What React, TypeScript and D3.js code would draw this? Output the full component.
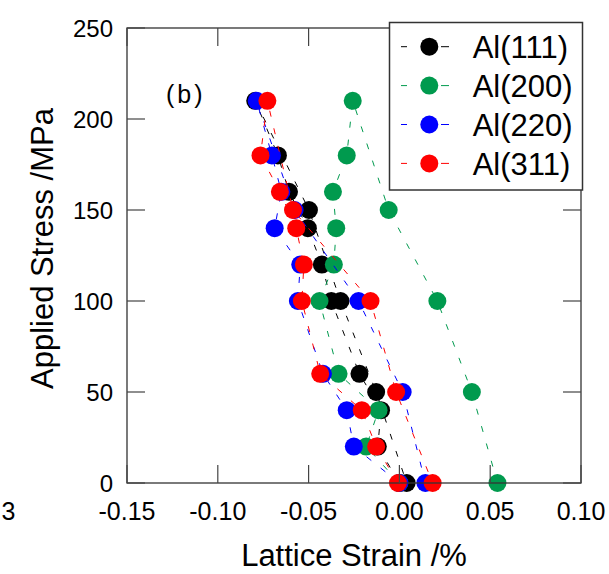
import React from "react";
import * as d3 from "d3";

// stress path: loading to 210 MPa then unloading
const loadStress = [0, 20, 40, 60, 100, 120, 140, 160, 180, 210];
const unloadStress = [150, 100, 50, 0];

const al111 = [0.0, -0.0119, -0.0101, -0.022, -0.0375, -0.0427, -0.0504, -0.0608, -0.0669, -0.0794, -0.0498, -0.0324, -0.0128, 0.004];
const al200 = [0.0, -0.0183, -0.0115, -0.0335, -0.044, -0.0361, -0.0348, -0.0366, -0.029, -0.0257, -0.0059, 0.0209, 0.0399, 0.054];
const al220 = [0.0, -0.0251, -0.029, -0.0421, -0.0559, -0.0546, -0.0687, -0.065, -0.0702, -0.0786, -0.0577, -0.0225, 0.0018, 0.0143];
const al311 = [-0.0008, -0.0128, -0.0207, -0.0436, -0.0537, -0.0526, -0.0568, -0.0658, -0.0765, -0.0727, -0.0586, -0.0159, -0.0018, 0.0183];

const seriesNames = ["Al(111)", "Al(200)", "Al(220)", "Al(311)"];
const seriesColors = ["#000000", "#009a4e", "#0000ff", "#ff0000"];

const xTicks = [-0.15, -0.1, -0.05, 0.0, 0.05, 0.1];
const yTicks = [0, 50, 100, 150, 200, 250];

const W = 609;
const H = 574;
const FONT = "'Liberation Sans', Arial, sans-serif";

export default function App() {
  const x = d3.scaleLinear().domain([-0.15, 0.1]).range([127, 581]);
  const y = d3.scaleLinear().domain([0, 250]).range([483, 28]);
  const stress = [...loadStress, ...unloadStress];
  const all = [al111, al200, al220, al311];

  const line = d3
    .line<[number, number]>()
    .x((d) => x(d[0]))
    .y((d) => y(d[1]));

  const fmt = (v: number) => d3.format(".2f")(v).replace("\u2212", "-");
  const [x0, x1] = x.range();
  const [yb, yt] = y.range();
  const tickLen = 18;

  // legend geometry
  const lg = { x: 389.5, y: 22.5, w: 193, h: 167.5 };
  const rowY = (i: number) => 46.7 + i * 38.9;

  return (
    <div style={{ position: "absolute", left: 0, top: 0 }}>
      <svg width={W} height={H} style={{ display: "block", fontFamily: FONT }}>
        <rect width={W} height={H} fill="#fff" />

        {/* series: dashed path + markers */}
        {all.map((vals, si) => {
          const pts = vals.map((v, i) => [v, stress[i]] as [number, number]);
          return (
            <g key={si}>
              <path
                d={line(pts) || ""}
                fill="none"
                stroke={seriesColors[si]}
                strokeWidth={1}
                strokeDasharray="6,12"
              />
              {pts.map((p, i) => (
                <circle key={i} cx={x(p[0])} cy={y(p[1])} r={9} fill={seriesColors[si]} />
              ))}
            </g>
          );
        })}

        {/* frame */}
        <rect x={x0} y={yt} width={x1 - x0} height={yb - yt} fill="none" stroke="#333" strokeWidth={1.3} />

        {/* x ticks (inward, top and bottom) */}
        {xTicks.map((t) => (
          <g key={"x" + t}>
            <line x1={x(t)} x2={x(t)} y1={yb} y2={yb - tickLen} stroke="#444" strokeWidth={1.2} />
            <line x1={x(t)} x2={x(t)} y1={yt} y2={yt + tickLen} stroke="#444" strokeWidth={1.2} />
            <text x={x(t)} y={520} textAnchor="middle" fontSize={25} fill="#000">
              {fmt(t)}
            </text>
          </g>
        ))}

        {/* y ticks (inward, left and right) */}
        {yTicks.map((t) => (
          <g key={"y" + t}>
            <line x1={x0} x2={x0 + tickLen} y1={y(t)} y2={y(t)} stroke="#444" strokeWidth={1.2} />
            <line x1={x1} x2={x1 - tickLen} y1={y(t)} y2={y(t)} stroke="#444" strokeWidth={1.2} />
            <text x={113} y={y(t)} dy="0.36em" textAnchor="end" fontSize={24} fill="#000">
              {t}
            </text>
          </g>
        ))}

        <text x={8.5} y={520} fontSize={25} textAnchor="middle" fill="#000">3</text>

        {/* axis titles */}
        <text x={(x0 + x1) / 2} y={566} textAnchor="middle" fontSize={31} fill="#000">
          Lattice Strain /%
        </text>
        <text
          transform={`translate(53,${(yb + yt) / 2 - 7}) rotate(-90)`}
          textAnchor="middle"
          fontSize={31}
          fill="#000"
        >
          Applied Stress /MPa
        </text>

        <text x={166} y={103} fontSize={25} letterSpacing={3} fill="#000">
          (b)
        </text>

        {/* legend */}
        <rect x={lg.x} y={lg.y} width={lg.w} height={lg.h} fill="#fff" stroke="#333" strokeWidth={1.5} />
        {seriesNames.map((name, i) => (
          <g key={name}>
            <line x1={401} x2={407} y1={rowY(i)} y2={rowY(i)} stroke={seriesColors[i]} strokeWidth={1} />
            <line x1={441} x2={449} y1={rowY(i)} y2={rowY(i)} stroke={seriesColors[i]} strokeWidth={1} />
            <circle cx={429.3} cy={rowY(i)} r={9} fill={seriesColors[i]} />
            <text x={472.7} y={rowY(i) + 11.5} fontSize={31} fill="#000">
              {name}
            </text>
          </g>
        ))}
      </svg>
    </div>
  );
}
